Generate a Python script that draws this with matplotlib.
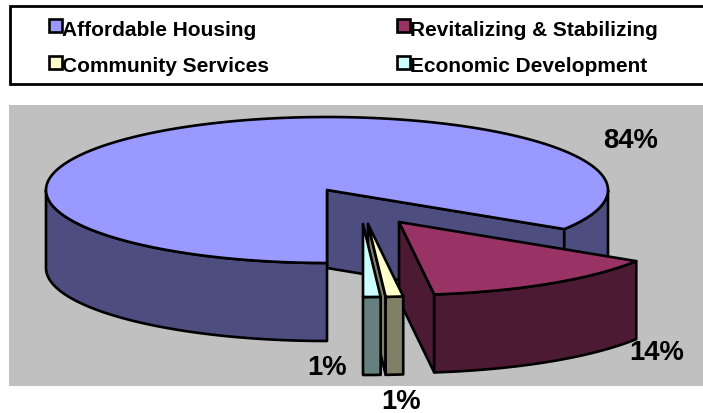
import numpy as np
import matplotlib
matplotlib.use("Agg")
import matplotlib.pyplot as plt
from matplotlib.patches import Polygon, Rectangle

# Data
categories = ["Affordable Housing", "Revitalizing & Stabilizing", "Community Services", "Economic Development"]
values = [84, 14, 1, 1]
pct_labels = ["84%", "14%", "1%", "1%"]

# Styles
top_colors = ["#9999FF", "#993366", "#FFFFCC", "#CCFFFF"]
wall_colors = ["#4D4D80", "#4D1A33", "#808066", "#668080"]
apex_px = [(327, 191), (399, 223), (368, 225), (363, 225)]
label_px = [(631, 141), (656.5, 353), (401, 402), (327, 368)]
legend_px = [(48, 30), (396, 30), (48, 67), (396, 67)]

RX, RY, DEPTH = 281, 73, 78
LW = 1.9

plt.rcParams["font.family"] = ["Liberation Sans", "DejaVu Sans"]
plt.rcParams["font.weight"] = "bold"

fig = plt.figure(figsize=(7.03, 4.14), dpi=100)
ax = fig.add_axes([0, 0, 1, 1])
ax.set_xlim(0, 703)
ax.set_ylim(414, 0)
ax.axis("off")

# Plot area and legend box
ax.add_patch(Rectangle((9, 106), 694, 281, fc="#C0C0C0", ec="none", zorder=0))
ax.plot([703, 9.5, 9.5, 703], [7, 7, 85, 85], color="black", lw=2, solid_joinstyle="miter", zorder=1)


def rim(cx, cy, t0, t1, drop=0):
    t = np.radians(np.linspace(t0, t1, 200))
    return np.column_stack([cx + RX * np.cos(t), cy + drop - RY * np.sin(t)])


def draw_slice(cx, cy, t_start, t_end, top, wall, z):
    # t_start > t_end, going clockwise in ellipse angle
    kw = dict(fc=wall, ec="black", lw=LW, joinstyle="round", zorder=z)
    for t in (t_start, t_end):
        # cut faces, only the ones turned to the viewer
        if t == t_start and np.sin(np.radians(t + 90)) > -1e-6:
            continue
        if t == t_end and np.sin(np.radians(t - 90)) > -1e-6:
            continue
        p = rim(cx, cy, t, t, 0)[0]
        ax.add_patch(Polygon([(cx, cy), p, (p[0], p[1] + DEPTH), (cx, cy + DEPTH)], **kw))
    # outer wall on the front half only
    for k in range(-2, 1):
        a = max(t_end, -180 + 360 * k)
        b = min(t_start, 360 * k)
        if a < b:
            upper = rim(cx, cy, a, b)
            lower = rim(cx, cy, b, a, DEPTH)
            ax.add_patch(Polygon(np.vstack([upper, lower]), **kw))
    pts = np.vstack([[(cx, cy)], rim(cx, cy, t_start, t_end)])
    ax.add_patch(Polygon(pts, fc=top, ec="black", lw=LW, joinstyle="round", zorder=z + 0.5))


# Slices go clockwise from the bottom of the pie
angles = -90 - np.cumsum([0] + values) * 360 / sum(values)
for i in range(len(values)):
    draw_slice(apex_px[i][0], apex_px[i][1], angles[i], angles[i + 1], top_colors[i], wall_colors[i], 2 + i)

for (x, y), s in zip(label_px, pct_labels):
    ax.text(x, y, s, ha="center", va="center", fontsize=19.8, fontweight="bold", color="black", zorder=10)

for (x, y), name, c in zip(legend_px, categories, top_colors):
    ax.add_patch(Rectangle((x + 1, y - 10.5), 13, 13, fc=c, ec="black", lw=1.9, zorder=6))
    ax.text(x + 14, y, name, ha="left", va="center", fontsize=15, fontweight="bold", color="black", zorder=7)

fig.savefig("out.png", dpi=100)
